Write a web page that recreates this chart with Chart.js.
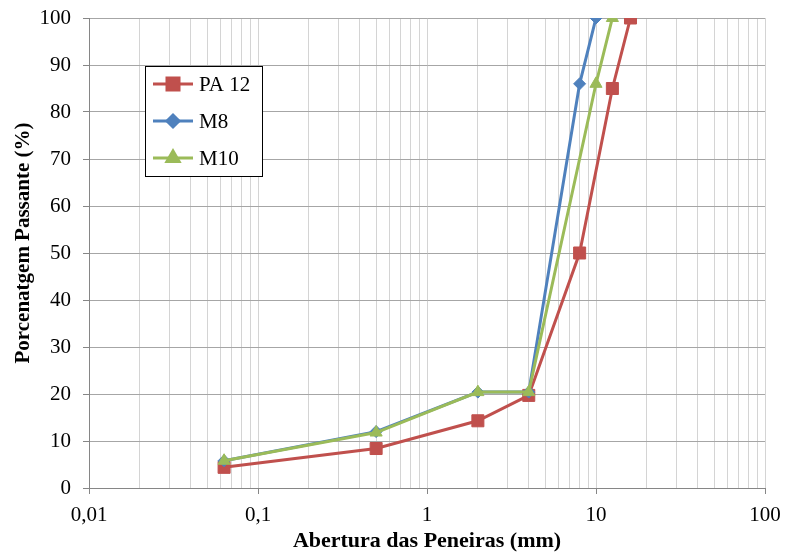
<!DOCTYPE html>
<html>
<head>
<meta charset="utf-8">
<script src="https://cdn.jsdelivr.net/npm/chart.js@4.4.0/dist/chart.umd.min.js"></script>
<style>
  html, body { margin: 0; padding: 0; background: #ffffff; }
  #wrap { width: 785px; height: 557px; }
</style>
</head>
<body>
<div id="wrap"><canvas id="c" width="785" height="557"></canvas></div>
<script>
// ---- data ----
const seriesNames = ['PA 12', 'M8', 'M10'];
const sievePA12 = [0.063, 0.5, 2, 4, 8, 12.5, 16];
const passPA12  = [4.4, 8.4, 14.3, 19.7, 50, 85, 100];
const sieveM8   = [0.063, 0.5, 2, 4, 8, 10];
const passM8    = [5.8, 12, 20.4, 20.4, 86, 100];
const sieveM10  = [0.063, 0.5, 2, 4, 10, 12.5];
const passM10   = [5.8, 11.8, 20.4, 20.4, 86, 100];
const xDecades    = [0.01, 0.1, 1, 10, 100];
const xTickLabels = ['0,01', '0,1', '1', '10', '100'];
const yTicks = [0, 10, 20, 30, 40, 50, 60, 70, 80, 90, 100];
const xTitle = 'Abertura das Peneiras (mm)';
const yTitle = 'Porcenatgem Passante (%)';

const colors = ['#C0504D', '#4F81BD', '#9BBB59'];
const styles = ['rect', 'rectRot', 'triangle'];
const radii  = [8.5, 6, 7];

function pts(xs, ys) { return xs.map((x, i) => ({ x: x, y: ys[i] })); }
const sets = [pts(sievePA12, passPA12), pts(sieveM8, passM8), pts(sieveM10, passM10)];

const FONT = '"Liberation Serif", "Times New Roman", serif';

// minor + major x ticks for the log grid
function buildLogTicks() {
  const t = [];
  for (let e = -2; e <= 1; e++) {
    for (let k = 1; k <= 9; k++) t.push(Number((k * Math.pow(10, e)).toPrecision(3)));
  }
  t.push(100);
  return t;
}
function isDecade(v) { return xDecades.some(d => Math.abs(d - v) / d < 1e-6); }

const legendPlugin = {
  id: 'boxLegend',
  afterDraw(chart) {
    const ctx = chart.ctx;
    ctx.save();
    // y axis title
    ctx.save();
    ctx.translate(24, 243);
    ctx.rotate(-Math.PI / 2);
    ctx.fillStyle = '#000000';
    ctx.font = 'bold 21px ' + FONT;
    ctx.textAlign = 'center';
    ctx.textBaseline = 'middle';
    ctx.fillText(yTitle, 0, 0);
    ctx.restore();

    const bx = 145, by = 66, bw = 117, bh = 110;
    ctx.fillStyle = '#ffffff';
    ctx.fillRect(bx, by, bw, bh);
    ctx.strokeStyle = '#000000';
    ctx.lineWidth = 1;
    ctx.strokeRect(bx + 0.5, by + 0.5, bw, bh);
    const rows = [84, 121, 158];
    chart.data.datasets.forEach((ds, i) => {
      const y = rows[i];
      ctx.strokeStyle = ds.borderColor;
      ctx.lineWidth = 3;
      ctx.beginPath();
      ctx.moveTo(153, y);
      ctx.lineTo(193, y);
      ctx.stroke();
      Chart.helpers.drawPoint(ctx, {
        pointStyle: ds.pointStyle, radius: ds.pointRadius, rotation: 0, borderWidth: 1
      }, 173, y);
      ctx.fillStyle = ds.borderColor;
      ctx.strokeStyle = ds.borderColor;
      ctx.lineWidth = 1;
      ctx.fill();
      ctx.stroke();
      ctx.fillStyle = '#000000';
      ctx.font = '21px ' + FONT;
      ctx.textBaseline = 'middle';
      ctx.textAlign = 'left';
      ctx.fillText(ds.label, 199, y + 1);
    });
    ctx.restore();
  }
};

new Chart(document.getElementById('c'), {
  type: 'scatter',
  data: {
    datasets: sets.map((d, i) => ({
      label: seriesNames[i],
      data: d,
      order: 3 - i,
      showLine: true,
      borderColor: colors[i],
      backgroundColor: colors[i],
      borderWidth: 3,
      pointStyle: styles[i],
      pointRadius: radii[i],
      pointHoverRadius: radii[i],
      pointBorderWidth: 1,
      pointBackgroundColor: colors[i],
      pointBorderColor: colors[i],
      tension: 0
    }))
  },
  options: {
    responsive: false,
    devicePixelRatio: 1,
    animation: false,
    layout: { padding: { top: 18, right: 20, left: 0, bottom: 0 } },
    plugins: { legend: { display: false }, tooltip: { enabled: false } },
    scales: {
      x: {
        type: 'logarithmic',
        min: 0.01, max: 100,
        afterBuildTicks(scale) { scale.ticks = buildLogTicks().map(v => ({ value: v })); },
        afterFit(scale) {
          scale.height = 69;
          scale.paddingLeft = 0;
          scale.paddingRight = 0;
        },
        ticks: {
          autoSkip: false, maxRotation: 0, minRotation: 0,
          color: '#000000', font: { family: FONT, size: 21 }, padding: 9,
          callback(value) {
            const i = xDecades.findIndex(d => Math.abs(d - value) / d < 1e-6);
            return i >= 0 ? xTickLabels[i] : '';
          }
        },
        grid: {
          color: '#d4d4d4', lineWidth: 1, drawTicks: true, tickLength: 6,
          tickColor: (c) => (c.tick && isDecade(c.tick.value)) ? '#868686' : 'rgba(0,0,0,0)'
        },
        border: { display: true, color: '#868686', width: 1 },
        title: {
          display: true, text: xTitle, color: '#000000',
          font: { family: FONT, size: 22, weight: 'bold' }, padding: { top: 0, bottom: 2 }
        }
      },
      y: {
        min: 0, max: 100,
        afterBuildTicks(scale) { scale.ticks = yTicks.map(v => ({ value: v })); },
        afterFit(scale) {
          scale.width = 89;
          scale.paddingTop = 0;
          scale.paddingBottom = 0;
        },
        ticks: { color: '#000000', font: { family: FONT, size: 21 }, padding: 12 },
        grid: { color: '#a6a6a6', lineWidth: 1, drawTicks: true, tickLength: 6, tickColor: '#868686' },
        border: { display: true, color: '#868686', width: 1 },
        title: { display: false }
      }
    }
  },
  plugins: [legendPlugin]
});
</script>
</body>
</html>
